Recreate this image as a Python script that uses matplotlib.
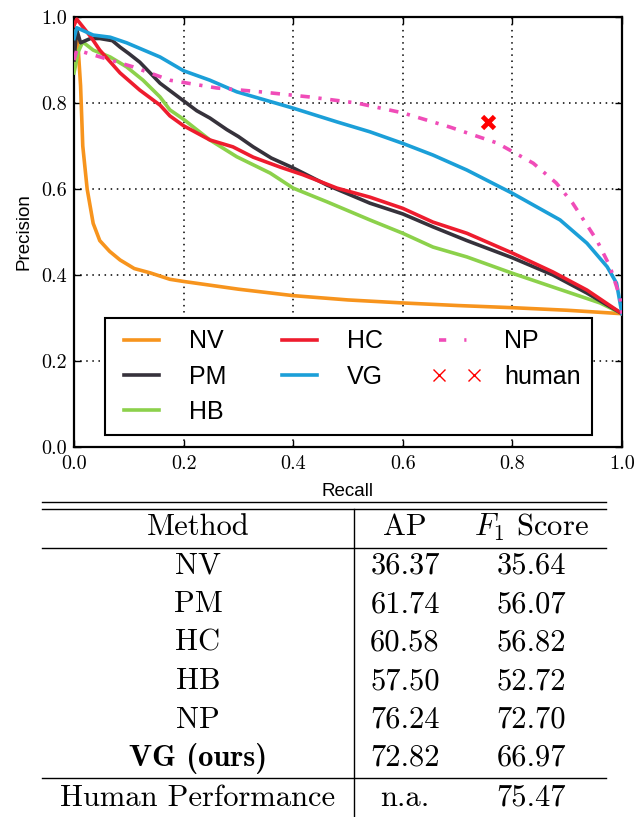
import matplotlib
matplotlib.use("Agg")
import matplotlib.pyplot as plt
from matplotlib.lines import Line2D

plt.rcParams["mathtext.fontset"] = "cm"
plt.rcParams["axes.unicode_minus"] = False

# ---- precision / recall curves ----
nv_recall = [0.0, 0.004, 0.008, 0.012, 0.016, 0.024, 0.035, 0.047, 0.065, 0.084,
             0.11, 0.139, 0.175, 0.2, 0.3, 0.4, 0.5, 0.6, 0.7, 0.8, 0.9, 1.0]
nv_prec = [0.88, 0.97, 0.92, 0.84, 0.70, 0.60, 0.52, 0.48, 0.455, 0.435,
           0.415, 0.405, 0.39, 0.385, 0.367, 0.352, 0.342, 0.335, 0.329, 0.324, 0.318, 0.31]

pm_recall = [0.0, 0.005, 0.012, 0.03, 0.047, 0.07, 0.084, 0.1, 0.12, 0.157, 0.2, 0.224,
             0.248, 0.279, 0.30, 0.327, 0.36, 0.40, 0.462, 0.54, 0.60, 0.655, 0.717,
             0.80, 0.874, 0.936, 1.0]
pm_prec = [0.90, 0.97, 0.94, 0.95, 0.95, 0.945, 0.93, 0.915, 0.895, 0.846, 0.805, 0.782,
           0.765, 0.738, 0.722, 0.698, 0.672, 0.649, 0.609, 0.567, 0.542, 0.512, 0.48,
           0.44, 0.40, 0.358, 0.31]

hc_recall = [0.0, 0.005, 0.03, 0.047, 0.084, 0.12, 0.157, 0.175, 0.2, 0.248, 0.29,
             0.327, 0.376, 0.418, 0.48, 0.54, 0.60, 0.655, 0.717, 0.80, 0.874, 0.936, 1.0]
hc_prec = [0.98, 0.995, 0.955, 0.923, 0.87, 0.83, 0.795, 0.77, 0.747, 0.714, 0.698,
           0.674, 0.651, 0.633, 0.602, 0.581, 0.555, 0.523, 0.497, 0.451, 0.407, 0.365, 0.31]

hb_recall = [0.0, 0.008, 0.016, 0.035, 0.066, 0.096, 0.126, 0.157, 0.175, 0.2, 0.248,
             0.297, 0.358, 0.40, 0.462, 0.54, 0.60, 0.655, 0.717, 0.80, 0.874, 0.96, 1.0]
hb_prec = [0.87, 0.92, 0.942, 0.923, 0.907, 0.884, 0.853, 0.814, 0.784, 0.762, 0.714,
           0.675, 0.637, 0.602, 0.57, 0.528, 0.497, 0.465, 0.442, 0.404, 0.372, 0.335, 0.31]

vg_recall = [0.0, 0.005, 0.035, 0.066, 0.096, 0.157, 0.2, 0.248, 0.297, 0.40, 0.48,
             0.54, 0.60, 0.655, 0.717, 0.80, 0.887, 0.936, 0.973, 0.99, 1.0]
vg_prec = [0.95, 0.975, 0.958, 0.953, 0.94, 0.907, 0.875, 0.853, 0.826, 0.788, 0.756,
           0.733, 0.706, 0.679, 0.644, 0.59, 0.528, 0.474, 0.419, 0.381, 0.31]

np_recall = [0.0, 0.005, 0.035, 0.066, 0.108, 0.175, 0.26, 0.34, 0.43, 0.516, 0.60,
             0.686, 0.772, 0.838, 0.88, 0.91, 0.954, 0.978, 0.996, 1.0]
np_prec = [0.90, 0.923, 0.912, 0.90, 0.884, 0.853, 0.835, 0.826, 0.814, 0.80, 0.777,
           0.744, 0.707, 0.66, 0.614, 0.567, 0.481, 0.42, 0.35, 0.31]

human_recall = [0.755]
human_prec = [0.755]

# ---- results table ----
methods = ["NV", "PM", "HC", "HB", "NP", "VG (ours)"]
ap_scores = [36.37, 61.74, 60.58, 57.50, 76.24, 72.82]
f1_scores = [35.64, 56.07, 56.82, 52.72, 72.70, 66.97]
human_label = "Human Performance"
human_ap = "n.a."
human_f1 = 75.47

colors = {
    "NV": "#f7941d",
    "PM": "#36323b",
    "HC": "#ee1c2e",
    "HB": "#8cd14b",
    "VG": "#1b9fd8",
    "NP": "#f04cb8",
    "human": "#ff0000",
}

W, H = 634, 817
fig = plt.figure(figsize=(W / 100, H / 100), dpi=100)

ax = fig.add_axes([74 / W, 1 - 447 / H, 548 / W, 430 / H])
lw = 2.6
ax.plot(nv_recall, nv_prec, color=colors["NV"], lw=lw, zorder=3)
ax.plot(hb_recall, hb_prec, color=colors["HB"], lw=lw, zorder=3)
ax.plot(pm_recall, pm_prec, color=colors["PM"], lw=lw, zorder=3)
ax.plot(hc_recall, hc_prec, color=colors["HC"], lw=lw, zorder=3)
ax.plot(vg_recall, vg_prec, color=colors["VG"], lw=lw, zorder=3)
ax.plot(np_recall, np_prec, color=colors["NP"], lw=lw,
        linestyle=(0, (2.6, 2.4, 0.9, 2.4)), zorder=3)
ax.plot(human_recall, human_prec, linestyle="none", marker="x", ms=9, mew=3.4,
        color=colors["human"], zorder=4)

ax.set_xlim(0, 1)
ax.set_ylim(0, 1)
ticks = [0.0, 0.2, 0.4, 0.6, 0.8, 1.0]
ax.set_xticks(ticks)
ax.set_yticks(ticks)
ax.set_xticklabels([f"{t:.1f}" for t in ticks], family="cmr10", fontsize=14.5)
ax.set_yticklabels([f"{t:.1f}" for t in ticks], family="cmr10", fontsize=14.5)
ax.tick_params(direction="in", length=5, width=1, top=True, right=True)
ax.tick_params(axis="x", pad=6)
ax.tick_params(axis="y", pad=5)
ax.grid(True, color="black", linestyle=(0, (1, 3)), linewidth=1.1)
for s in ax.spines.values():
    s.set_linewidth(1.6)

ax.set_xlabel("Recall", family="Liberation Sans", fontsize=13.5, labelpad=7)
ax.set_ylabel("Precision", family="Liberation Sans", fontsize=13.5, labelpad=6)

handles = [
    Line2D([], [], color=colors["NV"], lw=lw),
    Line2D([], [], color=colors["PM"], lw=lw),
    Line2D([], [], color=colors["HB"], lw=lw),
    Line2D([], [], color=colors["HC"], lw=lw),
    Line2D([], [], color=colors["VG"], lw=lw),
    Line2D([], [], color=colors["NP"], lw=lw, linestyle=(0, (2, 5, 0.6, 5))),
    Line2D([], [], color=colors["human"], linestyle="none", marker="x", ms=9, mew=1),
]
labels = ["NV", "PM", "HB", "HC", "VG", "NP", "human"]
leg = ax.legend(handles, labels, ncol=3, loc="upper left",
                bbox_to_anchor=(31 / 548, 19 / 430, 487 / 548, 110 / 430),
                mode="expand", prop={"family": "Liberation Sans", "size": 18},
                frameon=True, fancybox=False, edgecolor="black", framealpha=1,
                handlelength=2.0, handletextpad=0.9, labelspacing=0.45,
                borderpad=0.45, numpoints=2, borderaxespad=0)
leg.get_frame().set_linewidth(1.5)

# ---- table drawn in pixel coordinates ----
tb = fig.add_axes([0, 0, 1, 1 - 496 / H])
tb.set_xlim(0, W)
tb.set_ylim(H, 496)
tb.axis("off")

x0, x1, xv = 42, 606, 354
rule_kw = dict(color="black", lw=1.0)
tb.plot([x0, x1], [502, 502], **rule_kw)
tb.plot([x0, x1], [509, 509], **rule_kw)
tb.plot([x0, x1], [548, 548], **rule_kw)
tb.plot([x0, x1], [778, 778], **rule_kw)
tb.plot([xv, xv], [509, H], **rule_kw)

fs = 22
cx_m, cx_ap, cx_f1 = 198, 405, 531
tkw = dict(ha="center", va="center", fontsize=fs)
tb.text(cx_m, 527, "Method", family="cmr10", **tkw)
tb.text(cx_ap, 527, "AP", family="cmr10", **tkw)
tb.text(cx_f1, 527, r"$F_1$ Score", family="cmr10", **tkw)

row_y = [566, 604.5, 643, 681.5, 720, 758]
for i, (m, a, f) in enumerate(zip(methods, ap_scores, f1_scores)):
    fam = "cmb10" if i == len(methods) - 1 else "cmr10"
    tb.text(cx_m, row_y[i], m, family=fam, **tkw)
    tb.text(cx_ap, row_y[i], f"{a:.2f}", family="cmr10", **tkw)
    tb.text(cx_f1, row_y[i], f"{f:.2f}", family="cmr10", **tkw)

tb.text(cx_m, 798, human_label, family="cmr10", **tkw)
tb.text(cx_ap, 798, human_ap, family="cmr10", **tkw)
tb.text(cx_f1, 798, f"{human_f1:.2f}", family="cmr10", **tkw)

fig.savefig("out.png", dpi=100)
